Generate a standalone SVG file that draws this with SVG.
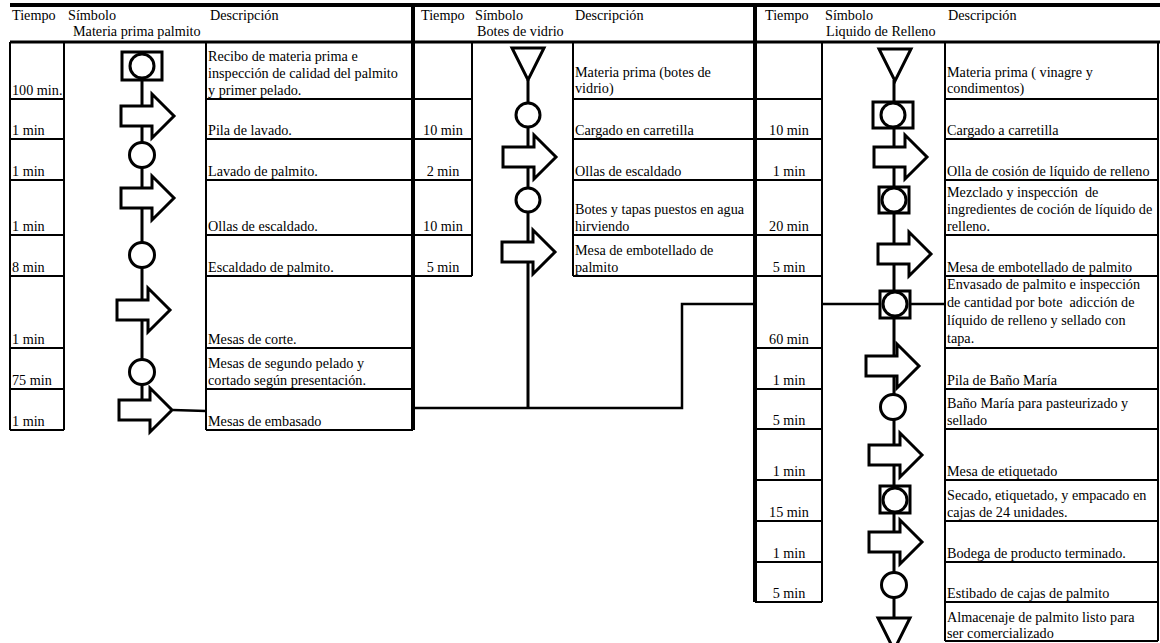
<svg xmlns="http://www.w3.org/2000/svg" width="1160" height="643" viewBox="0 0 1160 643">
<style>
.t{font-family:"Liberation Serif","Times New Roman",serif;font-size:14.2px;fill:#000;white-space:pre}
.m{text-anchor:middle}
.g{stroke:#000;stroke-width:2;fill:none}
.k{stroke:#000;stroke-width:4;fill:none}
.f{stroke:#000;stroke-width:3;fill:none}
.c{stroke:#000;stroke-width:2.5;fill:none}
.s{fill:#fff;stroke:#000;stroke-width:3}
</style>
<defs>
<path id="arr" d="M0,-10 H31 V-22 L53,0 L31,22 V10 H0 Z"/>
<polygon id="tri" points="-16,0 16,0 0,32"/>
</defs>
<rect width="1160" height="643" fill="#fff"/>

<g id="grid">
<path class="k" d="M10,5 H1160 M413,3 V430 M755,3 V602"/>
<path class="g" style="stroke-width:3" d="M10,42 H1160"/>
<path class="g" d="M10,42 V430 M64,42 V430 M10,99 H64 M10,139 H64 M10,180 H64 M10,235 H64 M10,276 H64 M10,348 H64 M10,389 H64 M10,430 H64
M206,42 V430 M206,99 H413 M206,139 H413 M206,180 H413 M206,235 H413 M206,276 H413 M206,348 H413 M206,389 H413 M206,430 H413"/>
<path class="g" d="M472,42 V276 M413,99 H472 M413,139 H472 M413,180 H472 M413,235 H472 M413,276 H472
M573,42 V276 M573,99 H755 M573,139 H755 M573,180 H755 M573,235 H755 M573,276 H755"/>
<path class="g" d="M822,42 V602 M755,99 H822 M755,139 H822 M755,180 H822 M755,235 H822 M755,276 H822 M755,348 H822 M755,389 H822 M755,429 H822 M755,480 H822 M755,521 H822 M755,562 H822 M755,602 H822
M945,42 V641 M1158,42 V641 M945,99 H1158 M945,139 H1158 M945,180 H1158 M945,235 H1158 M945,276 H1158 M945,348 H1158 M945,389 H1158 M945,429 H1158 M945,480 H1158 M945,521 H1158 M945,562 H1158 M945,602 H1158 M945,641 H1158"/>
</g>

<g id="headers" class="t">
<text x="12" y="19.5">Tiempo</text><text x="68" y="19.5">Símbolo</text><text x="210" y="19.5">Descripción</text>
<text x="73" y="36">Materia prima palmito</text>
<text x="421" y="19.5">Tiempo</text><text x="475" y="19.5">Símbolo</text><text x="575" y="19.5">Descripción</text>
<text x="477" y="36">Botes de vidrio</text>
<text x="765" y="19.5">Tiempo</text><text x="825" y="19.5">Símbolo</text><text x="948" y="19.5">Descripción</text>
<text x="826" y="36">Liquido de Relleno</text>
</g>

<g id="connectors">
<path class="f" d="M142,80 V410"/>
<path class="f" d="M528,80 V408"/>
<path class="f" d="M894,80 V618"/>
<path class="c" d="M173,410 L206,411"/>
<path class="c" d="M415,408 H682 V304 H753"/>
<path class="c" d="M822,304 H945"/>
</g>

<!-- Table 1: Materia prima palmito -->
<g id="a1"><rect class="s" x="122" y="52" width="40" height="28"/><circle class="s" cx="142" cy="66" r="12"/>
<text class="t" x="12" y="94.5">100 min.</text>
<text class="t" x="208" y="60.5">Recibo de materia prima e</text><text class="t" x="208" y="77.5">inspección de calidad del palmito</text><text class="t" x="208" y="94.5">y primer pelado.</text></g>
<g id="a2"><use href="#arr" class="s" transform="translate(121,116)"/>
<text class="t" x="12" y="134.5">1 min</text><text class="t" x="208" y="134.5">Pila de lavado.</text></g>
<g id="a3"><circle class="s" cx="142" cy="155" r="12.5"/>
<text class="t" x="12" y="175.5">1 min</text><text class="t" x="208" y="175.5">Lavado de palmito.</text></g>
<g id="a4"><use href="#arr" class="s" transform="translate(121,198)"/>
<text class="t" x="12" y="230.5">1 min</text><text class="t" x="208" y="230.5">Ollas de escaldado.</text></g>
<g id="a5"><circle class="s" cx="142" cy="255" r="12.5"/>
<text class="t" x="12" y="271.5">8 min</text><text class="t" x="208" y="271.5">Escaldado de palmito.</text></g>
<g id="a6"><use href="#arr" class="s" transform="translate(117,310)"/>
<text class="t" x="12" y="343.5">1 min</text><text class="t" x="208" y="343.5">Mesas de corte.</text></g>
<g id="a7"><circle class="s" cx="142" cy="372" r="12.5"/>
<text class="t" x="12" y="384.5">75 min</text><text class="t" x="208" y="367.5">Mesas de segundo pelado y</text><text class="t" x="208" y="384.5">cortado según presentación.</text></g>
<g id="a8"><use href="#arr" class="s" transform="translate(119,410)"/>
<text class="t" x="12" y="425.5">1 min</text><text class="t" x="208" y="425.5">Mesas de embasado</text></g>

<!-- Table 2: Botes de vidrio -->
<g id="b1"><use href="#tri" class="s" transform="translate(528,48)"/>
<text class="t" x="575" y="76.5">Materia prima (botes de</text><text class="t" x="575" y="93">vidrio)</text></g>
<g id="b2"><circle class="s" cx="528" cy="115" r="12"/>
<text class="t m" x="443" y="134.5">10 min</text><text class="t" x="575" y="134.5">Cargado en carretilla</text></g>
<g id="b3"><use href="#arr" class="s" transform="translate(503,157)"/>
<text class="t m" x="443" y="175.5">2 min</text><text class="t" x="575" y="175.5">Ollas de escaldado</text></g>
<g id="b4"><circle class="s" cx="528" cy="200" r="12"/>
<text class="t m" x="443" y="230.5">10 min</text><text class="t" x="575" y="213.5">Botes y tapas puestos en agua</text><text class="t" x="575" y="230.5">hirviendo</text></g>
<g id="b5"><use href="#arr" class="s" transform="translate(502,252)"/>
<text class="t m" x="443" y="271.5">5 min</text><text class="t" x="575" y="254.5">Mesa de embotellado de</text><text class="t" x="575" y="271.5">palmito</text></g>

<!-- Table 3: Liquido de Relleno -->
<g id="c1"><use href="#tri" class="s" transform="translate(895,49)"/>
<text class="t" x="947" y="76.5">Materia prima ( vinagre y</text><text class="t" x="947" y="93">condimentos)</text></g>
<g id="c2"><rect class="s" x="873" y="102" width="40" height="26"/><circle class="s" cx="893" cy="115" r="12"/>
<text class="t m" x="789" y="134.5">10 min</text><text class="t" x="947" y="134.5">Cargado a carretilla</text></g>
<g id="c3"><use href="#arr" class="s" transform="translate(874,157)"/>
<text class="t m" x="789" y="175.5">1 min</text><text class="t" x="947" y="175.5">Olla de cosión de líquido de relleno</text></g>
<g id="c4"><rect class="s" x="879" y="187" width="30" height="26"/><circle class="s" cx="894" cy="200" r="12"/>
<text class="t m" x="789" y="230.5">20 min</text><text class="t" x="947" y="196.5">Mezclado y inspección  de</text><text class="t" x="947" y="213.5">ingredientes de coción de líquido de</text><text class="t" x="947" y="230.5">relleno.</text></g>
<g id="c5"><use href="#arr" class="s" transform="translate(878,254)"/>
<text class="t m" x="789" y="271.5">5 min</text><text class="t" x="947" y="271.5">Mesa de embotellado de palmito</text></g>
<g id="c6"><rect class="s" x="880" y="291" width="30" height="27"/><circle class="s" cx="895" cy="304" r="12"/>
<text class="t m" x="789" y="343.5">60 min</text><text class="t" x="947" y="289">Envasado de palmito e inspección</text><text class="t" x="947" y="307">de cantidad por bote  adicción de</text><text class="t" x="947" y="325">líquido de relleno y sellado con</text><text class="t" x="947" y="343">tapa.</text></g>
<g id="c7"><use href="#arr" class="s" transform="translate(866,366)"/>
<text class="t m" x="789" y="384.5">1 min</text><text class="t" x="947" y="384.5">Pila de Baño María</text></g>
<g id="c8"><circle class="s" cx="893" cy="407" r="12.5"/>
<text class="t m" x="789" y="424.5">5 min</text><text class="t" x="947" y="407.5">Baño María para pasteurizado y</text><text class="t" x="947" y="424.5">sellado</text></g>
<g id="c9"><use href="#arr" class="s" transform="translate(869,455)"/>
<text class="t m" x="789" y="475.5">1 min</text><text class="t" x="947" y="475.5">Mesa de etiquetado</text></g>
<g id="c10"><rect class="s" x="880" y="486" width="30" height="27"/><circle class="s" cx="895" cy="500" r="12"/>
<text class="t m" x="789" y="516.5">15 min</text><text class="t" x="947" y="499.5">Secado, etiquetado, y empacado en</text><text class="t" x="947" y="516.5">cajas de 24 unidades.</text></g>
<g id="c11"><use href="#arr" class="s" transform="translate(869,542)"/>
<text class="t m" x="789" y="557.5">1 min</text><text class="t" x="947" y="557.5">Bodega de producto terminado.</text></g>
<g id="c12"><circle class="s" cx="894" cy="585" r="12.5"/>
<text class="t m" x="789" y="597.5">5 min</text><text class="t" x="947" y="597.5">Estibado de cajas de palmito</text></g>
<g id="c13"><use href="#tri" class="s" transform="translate(894,618)"/>
<text class="t" x="947" y="622">Almacenaje de palmito listo para</text><text class="t" x="947" y="638">ser comercializado</text></g>
</svg>
